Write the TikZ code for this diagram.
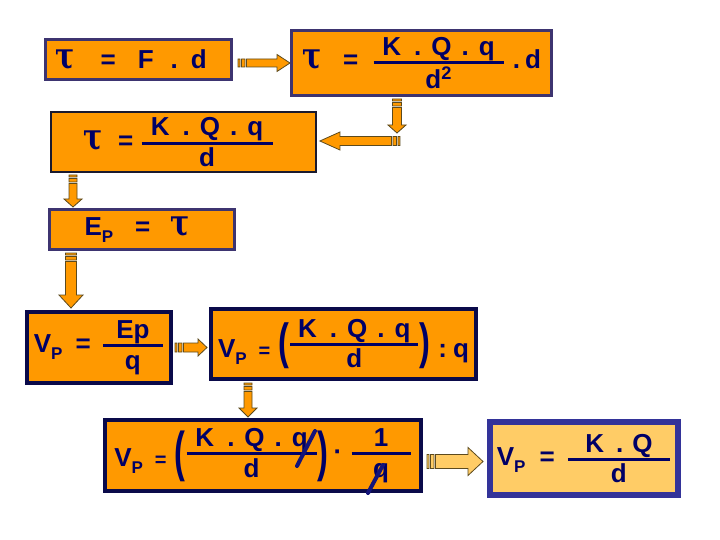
\documentclass[tikz,border=0pt]{standalone}
\usepackage{fontspec}
\usepackage{graphicx}
\setmainfont{Liberation Sans}
\newfontfamily\taufont{DejaVu Serif}
\usepackage{tikz}
\usetikzlibrary{calc}
\definecolor{ink}{HTML}{000066}
\definecolor{boxfill}{HTML}{FF9900}
\definecolor{lightfill}{HTML}{FFCC66}
\definecolor{frame}{HTML}{3D3470}
\definecolor{edge}{HTML}{1A1A2E}
\definecolor{deep}{HTML}{0A0A4A}
\definecolor{royal}{HTML}{333399}
\definecolor{arrline}{HTML}{5C4A1E}
\definecolor{arrfill}{HTML}{FF9900}
\definecolor{stroke}{HTML}{14147A}
\newcommand\eqsize{\fontsize{26}{28}\selectfont\bfseries}
\newcommand\tauv{\scalebox{0.95}[1.2]{\taufont\bfseries\fontsize{30}{30}\selectfont τ}}
\newcommand\subP{\raisebox{-7pt}{\fontsize{17}{17}\selectfont P}}
\newcommand\fr[3]{${\hbox to #1{\hss\raisebox{0pt}[\height][3pt]{#2}\vphantom{K}\hss}\above 3pt\hbox to #1{\hss#3\vphantom{d}\hss}}$}
\newcommand\KQq{K\hspace{13pt}.\hspace{10pt}Q\hspace{10pt}.\hspace{10pt}q}
\newcommand\tall[3]{\raisebox{#2}{\scalebox{1.25}[#1]{#3}}}
% block arrow with striped tail: [fill]{tail}{tip}{shaft}{head}{head length}
\newcommand\barrow[6][arrfill]{%
  \filldraw[fill=#1,draw=arrline,line width=0.8pt]
    ($(#2)!8.5pt!(#3)!#4!90:(#3)$) -- ($(#3)!#6!(#2)!#4!-90:(#2)$) --
    ($(#3)!#6!(#2)!#5!-90:(#2)$) -- (#3) -- ($(#3)!#6!(#2)!#5!90:(#2)$) --
    ($(#3)!#6!(#2)!#4!90:(#2)$) -- ($(#2)!8.5pt!(#3)!#4!-90:(#3)$) -- cycle
    ($(#2)!#4!90:(#3)$) -- ($(#2)!2pt!(#3)!#4!90:(#3)$) --
    ($(#2)!2pt!(#3)!#4!-90:(#3)$) -- ($(#2)!#4!-90:(#3)$) -- cycle
    ($(#2)!3.5pt!(#3)!#4!90:(#3)$) -- ($(#2)!7pt!(#3)!#4!90:(#3)$) --
    ($(#2)!7pt!(#3)!#4!-90:(#3)$) -- ($(#2)!3.5pt!(#3)!#4!-90:(#3)$) -- cycle;}
\begin{document}
\begin{tikzpicture}[x=1pt,y=-1pt,
  box/.style={draw=frame,line width=3pt,fill=boxfill,inner sep=0pt,text=ink,font=\eqsize},
  thinbox/.style={box,draw=edge,line width=1.8pt},
  deepbox/.style={box,draw=deep,line width=4pt},
  endbox/.style={box,draw=royal,line width=6pt,fill=lightfill},
  strike/.style={draw=stroke,line width=4pt,line cap=round}]
  \fill[white] (0,0) rectangle (720,540);
  \useasboundingbox (0,0) rectangle (720,540);
  % first row
  \node[box,minimum width=186pt,minimum height=40pt] (f1) at (138.5,59.5)
    {\hbox to 186pt{\hspace{10pt}\tauv\hspace{26pt}=\hspace{22pt}F\hspace{17pt}.\hspace{13pt}d\hss}};
  \node[box,minimum width=260pt,minimum height=65pt] (f2) at (421.5,63)
    {\tauv\hspace{22pt}=\hspace{14pt}\fr{130pt}{\KQq}{d\textsuperscript{2}}\hspace{8pt}.\hspace{5pt}d};
  \node[thinbox,minimum width=265pt,minimum height=60pt] (f3) at (183.5,142)
    {\hbox to 265pt{\hspace{32pt}\tauv\hspace{16pt}=\hspace{7pt}\fr{131pt}{\KQq}{d}\hss}};
  \node[box,minimum width=185pt,minimum height=40pt] (f4) at (142,229.5)
    {\hbox to 185pt{\hspace{35pt}E\subP\hspace{22pt}=\hspace{20pt}\tauv\hss}};
  % potential
  \node[deepbox,minimum width=144pt,minimum height=71pt] (f5) at (99,347.5)
    {V\subP\hspace{13pt}=\hspace{11pt}\fr{60pt}{Ep}{q}\hspace{3pt}};
  \node[deepbox,minimum width=265pt,minimum height=70pt] (f6) at (343.5,344)
    {V\subP\hspace{12pt}{\fontsize{20}{20}\selectfont=}\hspace{8pt}\raisebox{7pt}{\tall{1.9}{-8pt}{(}\fr{128pt}{\KQq}{d}\tall{1.9}{-8pt}{)}}\hspace{8pt}:\hspace{6pt}q};
  \node[deepbox,minimum width=316pt,minimum height=71pt] (f7) at (263,455.5)
    {V\subP\hspace{12pt}{\fontsize{20}{20}\selectfont=}\hspace{8pt}\raisebox{6pt}{\tall{2.1}{-10pt}{(}\fr{130pt}{\KQq}{d}\tall{2.1}{-10pt}{)}\hspace{5pt}·\hspace{8pt}\fr{59pt}{1}{q}}};
  \node[endbox,minimum width=188pt,minimum height=73pt] (f8) at (584,458.5)
    {V\subP\hspace{14pt}=\hspace{12pt}\fr{102pt}{K\hspace{12pt}.\hspace{9pt}Q}{d}};
  % arrow ends
  \coordinate (t1) at ($(f1.east |- f2.west)+(5,0)$);
  \coordinate (t2) at ($(f2.south)+(-24.5,2)$);
  \coordinate (h2) at ($(t2)+(0,34)$);
  \coordinate (t3) at ($(f3.east)+(83,-1)$);
  \coordinate (h3) at ($(f3.east)+(3,-1)$);
  \coordinate (t4) at ($(f4.north west)+(25,-33)$);
  \coordinate (h4) at ($(f4.north west)+(25,-1)$);
  \coordinate (t5) at ($(f4.south west)+(23,2)$);
  \coordinate (h5) at ($(f5.north west)+(46,-2)$);
  \coordinate (t6) at ($(f5.east)+(2,0)$);
  \coordinate (h6) at ($(f6.west |- t6)+(-2,0)$);
  \coordinate (t7) at ($(f6.south west)+(39,2)$);
  \coordinate (h7) at ($(f7.north -| t7)+(0,-1)$);
  \coordinate (t8) at ($(f7.east)+(4,6)$);
  \coordinate (h8) at ($(f8.west |- t8)+(-4,0)$);
  \barrow{t1}{f2.west}{4pt}{8.5pt}{13pt}
  \barrow{t2}{h2}{4.5pt}{9pt}{8pt}
  \barrow{t3}{h3}{4.5pt}{9pt}{20pt}
  \barrow{t4}{h4}{4pt}{9pt}{8pt}
  \barrow{t5}{h5}{5.5pt}{12pt}{13pt}
  \barrow{t6}{h6}{4.5pt}{8.5pt}{9pt}
  \barrow{t7}{h7}{4pt}{9pt}{9pt}
  \barrow[lightfill]{t8}{h8}{7pt}{14pt}{15pt}
  % cancelled q
  \draw[strike] (297,466) -- (315,431);
  \draw[strike] (368,493) -- (383,465);
\end{tikzpicture}
\end{document}
